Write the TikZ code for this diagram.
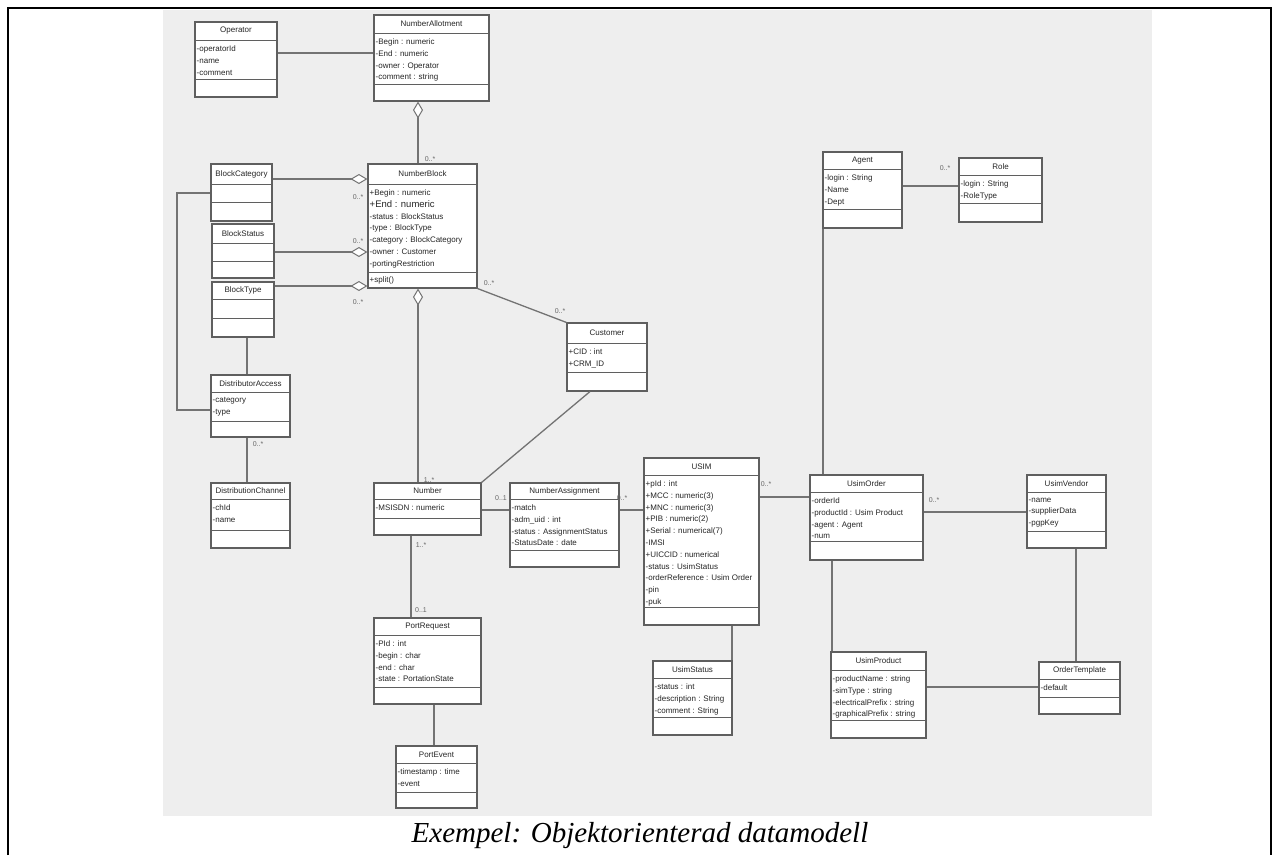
\documentclass[tikz,border=0pt]{standalone}
\usepackage{fontspec}
\setmainfont{Liberation Serif}
\setsansfont{Liberation Sans}
\usetikzlibrary{arrows.meta,fit}

\definecolor{canvas}{RGB}{238,238,238}
\definecolor{edge}{RGB}{115,115,115}
\definecolor{boxline}{RGB}{95,95,95}

\tikzset{
  clsbox/.style={draw=boxline, line width=1.1pt, fill=white, inner sep=0pt},
  divider/.style={draw=boxline, line width=1pt},
  clstitle/.style={font=\sffamily\fontsize{8}{9}\selectfont, text=black!85, inner sep=0pt},
  clsattr/.style={font=\sffamily\fontsize{8}{11.8}\selectfont, text=black!85, align=left,
    anchor=north west, inner xsep=1.5pt, inner ysep=5.5pt},
  assoc/.style={draw=edge, line width=1.3pt},
  aggr/.style={assoc, -{Diamond[fill=white, length=17pt, width=10pt, line width=1pt]}},
  mult/.style={font=\sffamily\fontsize{7}{8}\selectfont, text=black!60, inner sep=0pt},
}

% class box: name, x1, y1, x2, y2, header bottom, attribute bottom, title, attributes
\newcommand{\umlclass}[9]{%
  \node[clsbox, fit={(#2,#3) (#4,#5)}] (#1) {};
  \draw[divider] (#2,#6) -- (#4,#6);
  \draw[divider] (#2,#7) -- (#4,#7);
  \node[clstitle] (#1-t) at ({(#2+#4)/2},{(#3+#6)/2}) {#8};
  \node[clsattr] (#1-a) at (#2,#6) {#9};
}

\begin{document}
\begin{tikzpicture}[x=1pt, y=-1pt]
\useasboundingbox (0,0) rectangle (1279,855);

% page frame and diagram background
\fill[canvas] (163,10) rectangle (1152,816);
\draw[line width=1.5pt] (8,855) -- (8,8) -- (1271,8) -- (1271,855);

% classes
\umlclass{opr}{195}{22}{277}{97}{40}{79}{Operator}{-operatorId\\-name\\-comment}
\umlclass{na}{374}{15}{489}{101}{33}{84}{NumberAllotment}{-Begin : numeric\\-End : numeric\\-owner : Operator\\-comment : string}
\umlclass{nb}{368}{164}{477}{288}{184}{272}{NumberBlock}{+Begin : numeric\\{\fontsize{9.5}{11.8}\selectfont +End : numeric}\\-status : BlockStatus\\-type : BlockType\\-category : BlockCategory\\-owner : Customer\\-portingRestriction}
\node[clsattr, inner ysep=4pt] (nb-o) at (368,272) {+split()};
\umlclass{bc}{211}{164}{272}{221}{184}{202}{BlockCategory}{}
\umlclass{bs}{212}{224}{274}{278}{243}{261}{BlockStatus}{}
\umlclass{bt}{212}{282}{274}{337}{299}{318}{BlockType}{}
\umlclass{da}{211}{375}{290}{437}{392}{421}{DistributorAccess}{-category\\-type}
\umlclass{dc}{211}{483}{290}{548}{499}{530}{DistributionChannel}{-chId\\-name}
\umlclass{cust}{567}{323}{647}{391}{343}{372}{Customer}{+CID : int\\+CRM\_ID}
\umlclass{num}{374}{483}{481}{535}{499}{518}{Number}{-MSISDN : numeric}
\umlclass{nasg}{510}{483}{619}{567}{499}{550}{NumberAssignment}{-match\\-adm\_uid : int\\-status : AssignmentStatus\\-StatusDate : date}
\umlclass{pr}{374}{618}{481}{704}{635}{687}{PortRequest}{-PId : int\\-begin : char\\-end : char\\-state : PortationState}
\umlclass{pe}{396}{746}{477}{808}{763}{792}{PortEvent}{-timestamp : time\\-event}
\umlclass{usim}{644}{458}{759}{625}{475}{607}{USIM}{+pId : int\\+MCC : numeric(3)\\+MNC : numeric(3)\\+PIB : numeric(2)\\+Serial : numerical(7)\\-IMSI\\+UICCID : numerical\\-status : UsimStatus\\-orderReference : Usim Order\\-pin\\-puk}
\umlclass{ust}{653}{661}{732}{735}{678}{717}{UsimStatus}{-status : int\\-description : String\\-comment : String}
\umlclass{agent}{823}{152}{902}{228}{169}{209}{Agent}{-login : String\\-Name\\-Dept}
\umlclass{role}{959}{158}{1042}{222}{175}{203}{Role}{-login : String\\-RoleType}
\umlclass{uo}{810}{475}{923}{560}{492}{541}{UsimOrder}{-orderId\\-productId : Usim Product\\-agent : Agent\\-num}
\umlclass{uv}{1027}{475}{1106}{548}{492}{531}{UsimVendor}{-name\\-supplierData\\-pgpKey}
\umlclass{up}{831}{652}{926}{738}{670}{720}{UsimProduct}{-productName : string\\-simType : string\\-electricalPrefix : string\\-graphicalPrefix : string}
\umlclass{ot}{1039}{662}{1120}{714}{679}{697}{OrderTemplate}{-default}

% associations and aggregations
\draw[assoc] (opr.east |- 0,53) -- (na.west |- 0,53);
\draw[aggr] (nb.north -| 418,0) -- (na.south -| 418,0);
\draw[aggr] (bc.east |- 0,179) -- (nb.west |- 0,179);
\draw[aggr] (bs.east |- 0,252) -- (nb.west |- 0,252);
\draw[aggr] (bt.east |- 0,286) -- (nb.west |- 0,286);
\draw[aggr] (num.north -| 418,0) -- (nb.south -| 418,0);
\draw[assoc] (nb.south east) -- (cust.north west);
\draw[assoc] (cust.south -| 590,0) -- (num.north east);

\coordinate (bendA) at (177,193);
\coordinate (bendB) at (177,410);
\draw[assoc] (bc.west |- bendA) -- (bendA) -- (bendB) -- (da.west |- bendB);
\draw[assoc] (bt.south -| 247,0) -- (da.north -| 247,0);
\draw[assoc] (da.south -| 247,0) -- (dc.north -| 247,0);

\draw[assoc] (num.east |- 0,510) -- (nasg.west |- 0,510);
\draw[assoc] (nasg.east |- 0,510) -- (usim.west |- 0,510);
\draw[assoc] (num.south -| 411,0) -- (pr.north -| 411,0);
\draw[assoc] (pr.south -| 434,0) -- (pe.north -| 434,0);

\draw[assoc] (usim.east |- 0,497) -- (uo.west |- 0,497);
\draw[assoc] (usim.south -| 732,0) -- (ust.north -| 732,0);
\draw[assoc] (agent.east |- 0,186) -- (role.west |- 0,186);
\draw[assoc] (agent.south -| 823,0) -- (uo.north -| 823,0);
\draw[assoc] (uo.east |- 0,512) -- (uv.west |- 0,512);
\draw[assoc] (uo.south -| 832,0) -- (up.north -| 832,0);
\draw[assoc] (uv.south -| 1076,0) -- (ot.north -| 1076,0);
\draw[assoc] (up.east |- 0,687) -- (ot.west |- 0,687);

% multiplicities
\node[mult] (m1) at (430,159) {0..*};
\node[mult] (m2) at (358,197) {0..*};
\node[mult] (m3) at (358,241) {0..*};
\node[mult] (m4) at (358,302) {0..*};
\node[mult] (m5) at (489,283) {0..*};
\node[mult] (m6) at (560,311) {0..*};
\node[mult] (m7) at (429,480) {1..*};
\node[mult] (m8) at (258,444) {0..*};
\node[mult] (m9) at (501,498) {0..1};
\node[mult] (m10) at (622,498) {0..*};
\node[mult] (m11) at (421,545) {1..*};
\node[mult] (m12) at (421,610) {0..1};
\node[mult] (m13) at (766,484) {0..*};
\node[mult] (m14) at (945,168) {0..*};
\node[mult] (m15) at (934,500) {0..*};

% caption
\node[font=\itshape\fontsize{29}{32}\selectfont, inner sep=0pt] (caption) at (640,836) {Exempel: Objektorienterad datamodell};
\end{tikzpicture}
\end{document}
